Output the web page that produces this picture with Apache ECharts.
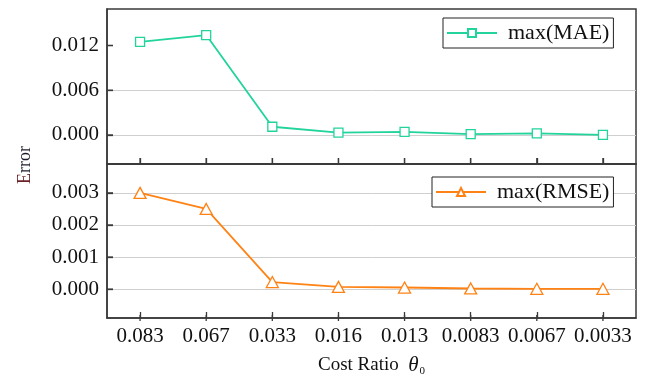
<!DOCTYPE html>
<html>
<head>
<meta charset="utf-8">
<script src="https://cdn.jsdelivr.net/npm/echarts@6/dist/echarts.min.js"></script>
<style>
  html, body { margin: 0; padding: 0; background: #fff; }
  #chart { width: 648px; height: 378px; }
</style>
</head>
<body>
<div id="chart"></div>
<script>
// Cost ratio settings along the x axis
const categories = ['0.083', '0.067', '0.033', '0.016', '0.013', '0.0083', '0.0067', '0.0033'];
// Error curves
const maeValues = [0.0125, 0.0134, 0.0011, 0.0003, 0.0004, 0.0001, 0.0002, 0.0000];
const rmseValues = [0.0030, 0.0025, 0.00022, 0.00007, 0.00005, 0.00002, 0.00001, 0.00001];
// Tick positions of the two value axes
const maeTicks = [0, 0.006, 0.012];
const rmseTicks = [0, 0.001, 0.002, 0.003];
const seriesNames = ['max(MAE)', 'max(RMSE)'];

const FONT = 'Liberation Serif';
const TEAL = '#22d49c';
const ORANGE = '#ff8214';
const FRAME = '#3a3a3a';
const GRIDLINE = '#cfcfcf';
const NONE = 'rgba(0,0,0,0)';

// panel frames
const PANELS = [
  { left: 107, right: 12, top: 9, height: 155 },
  { left: 107, right: 12, top: 164, height: 157 }
];
const TICK_LEN = 6;

const chart = echarts.init(document.getElementById('chart'));

// gridColors: one colour per tick, lowest first (transparent = no grid line)
function valueAxis(gridIndex, min, max, ticks, gridColors) {
  return {
    type: 'value',
    gridIndex: gridIndex,
    min: min,
    max: max,
    axisLine: { show: true, onZero: false, lineStyle: { color: FRAME, width: 1.5 } },
    axisTick: {
      show: true, inside: true, length: TICK_LEN, customValues: ticks,
      lineStyle: { color: FRAME, width: 1.3 }
    },
    axisLabel: {
      customValues: ticks,
      margin: 8,
      fontFamily: FONT, fontSize: 21, color: '#111',
      formatter: v => v.toFixed(3)
    },
    splitLine: {
      show: true,
      lineStyle: { color: gridColors, width: 1 }
    }
  };
}

function categoryAxis(gridIndex, showLabels) {
  const axis = {
    type: 'category',
    gridIndex: gridIndex,
    data: categories,
    axisLine: { show: true, onZero: false, lineStyle: { color: FRAME, width: 1.5 } },
    axisTick: {
      show: true, inside: true, length: TICK_LEN, alignWithLabel: true,
      lineStyle: { color: FRAME, width: 1.3 }
    },
    axisLabel: {
      show: showLabels, margin: 8, interval: 0,
      fontFamily: FONT, fontSize: 21, color: '#111'
    },
    splitLine: { show: false }
  };
  if (showLabels) {
    axis.name = 'Cost Ratio  {t|θ}{s|0}';
    axis.nameLocation = 'middle';
    axis.nameGap = 36;
    axis.nameTextStyle = {
      fontFamily: FONT, fontSize: 19, color: '#111',
      rich: {
        t: { fontFamily: FONT, fontStyle: 'italic', fontSize: 21, color: '#111' },
        s: { fontFamily: FONT, fontSize: 11, color: '#111', padding: [12, 0, 0, 1] }
      }
    };
  }
  return axis;
}

function legendBox(name, left, top) {
  return {
    data: [name],
    left: left,
    top: top,
    orient: 'horizontal',
    itemWidth: 50,
    itemHeight: 10,
    padding: [3, 4, 3, 3],
    borderColor: '#222',
    borderWidth: 1,
    backgroundColor: '#fff',
    textStyle: {
      fontFamily: FONT, fontSize: 22, color: '#111',
      lineHeight: 24, padding: [0, 0, 0, 6]
    }
  };
}

const yTitle = {
  id: 'ytitle',
  type: 'text',
  x: 25,
  y: 165,
  rotation: Math.PI / 2,
  style: {
    text: '{e|E}rror',
    font: '18px "Liberation Serif"',
    fill: '#1a1a2a',
    align: 'center',
    verticalAlign: 'middle',
    rich: { e: { fill: '#6e2228', font: '18px "Liberation Serif"' } }
  }
};

const option = {
  animation: false,
  grid: PANELS.map(p => Object.assign({ show: true, borderColor: FRAME, borderWidth: 1.5 }, p)),
  xAxis: [categoryAxis(0, false), categoryAxis(1, true)],
  yAxis: [
    valueAxis(0, -0.0039, 0.0169, maeTicks, [GRIDLINE, GRIDLINE, NONE]),
    valueAxis(1, -0.0009, 0.0039, rmseTicks, [GRIDLINE])
  ],
  legend: [
    legendBox(seriesNames[0], 443, 18),
    legendBox(seriesNames[1], 432, 177)
  ],
  graphic: [yTitle],
  series: [
    {
      name: seriesNames[0],
      type: 'line',
      xAxisIndex: 0,
      yAxisIndex: 0,
      data: maeValues,
      color: TEAL,
      symbol: 'rect',
      symbolSize: 9,
      showAllSymbol: true,
      lineStyle: { color: TEAL, width: 1.8 },
      itemStyle: { color: '#fff', borderColor: TEAL, borderWidth: 1.3 }
    },
    {
      name: seriesNames[1],
      type: 'line',
      xAxisIndex: 1,
      yAxisIndex: 1,
      data: rmseValues,
      color: ORANGE,
      symbol: 'triangle',
      symbolSize: [12, 11],
      showAllSymbol: true,
      lineStyle: { color: ORANGE, width: 1.8 },
      itemStyle: { color: '#fff', borderColor: ORANGE, borderWidth: 1.3 }
    }
  ]
};

chart.setOption(option);

// Inward tick marks on the frame of each panel, placed with the axes' own scales
const tickMarks = [];
function tickLine(x1, y1, x2, y2) {
  tickMarks.push({
    type: 'line', z: 100, silent: true,
    shape: { x1: x1, y1: y1, x2: x2, y2: y2 },
    style: { stroke: FRAME, lineWidth: 1.3 }
  });
}
[maeTicks, rmseTicks].forEach((ticks, i) => {
  const p = PANELS[i];
  const bottom = p.top + p.height;
  categories.forEach(c => {
    const x = chart.convertToPixel({ xAxisIndex: i }, c);
    tickLine(x, bottom, x, bottom - TICK_LEN);
  });
  ticks.forEach(v => {
    const y = chart.convertToPixel({ yAxisIndex: i }, v);
    tickLine(p.left, y, p.left + TICK_LEN, y);
  });
});
chart.setOption({ graphic: [yTitle].concat(tickMarks) }, { replaceMerge: ['graphic'] });
</script>
</body>
</html>
